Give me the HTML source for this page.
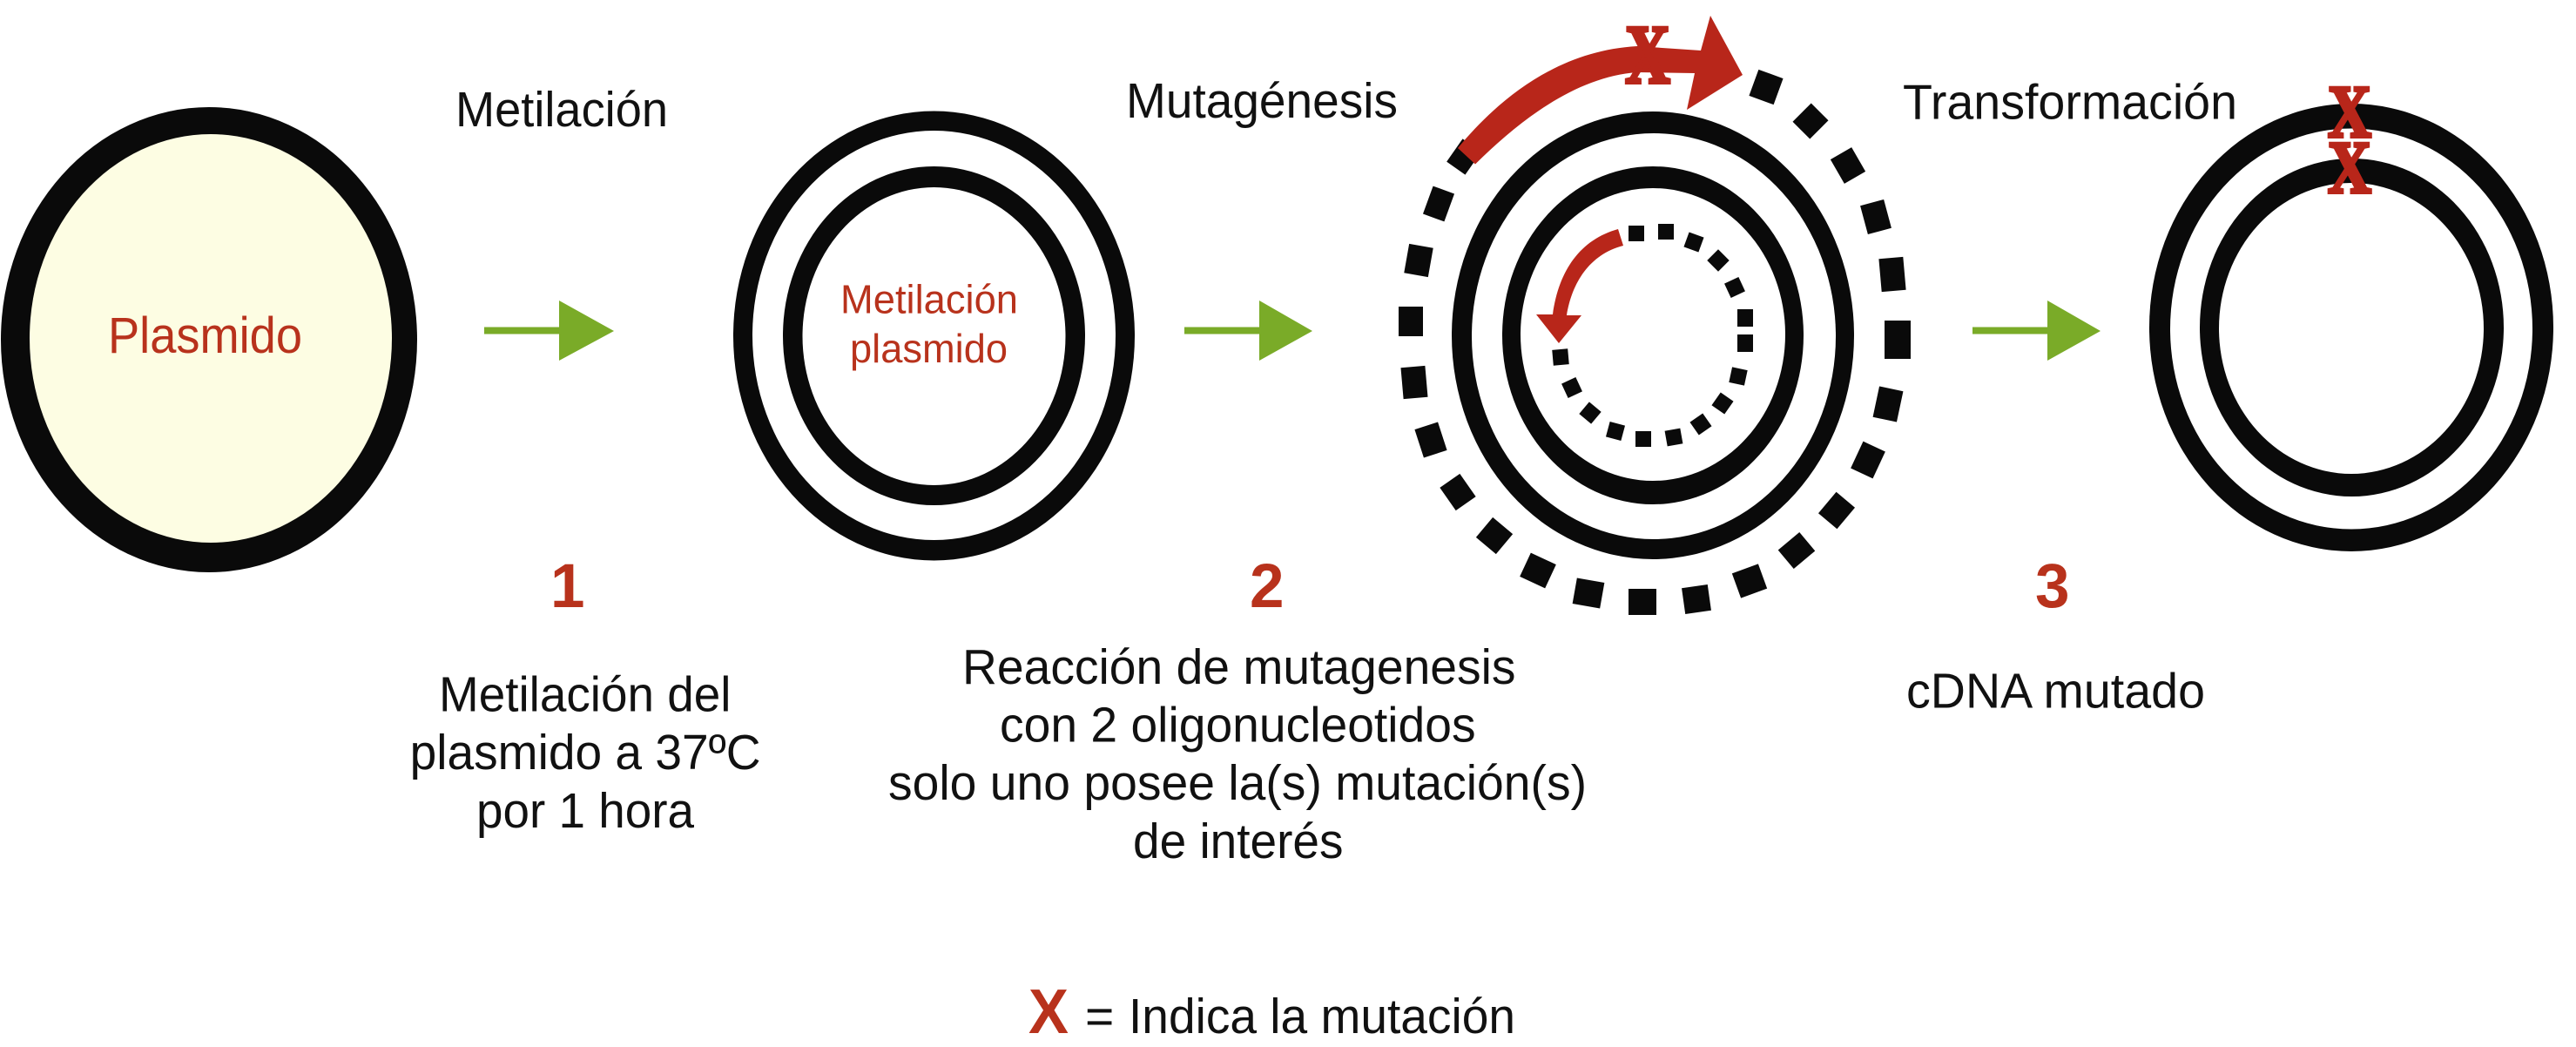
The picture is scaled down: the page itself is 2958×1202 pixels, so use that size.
<!DOCTYPE html>
<html lang="es">
<head>
<meta charset="utf-8">
<title>Metilación y mutagénesis</title>
<style>
html,body{margin:0;padding:0;background:#fff;width:2958px;height:1202px;overflow:hidden}
svg{display:block}
text{font-family:"Liberation Sans",Arial,sans-serif}
.t{font-size:57px;fill:#111}
.r{fill:#b8321c}
.n{font-size:71px;font-weight:bold;fill:#b8321c}
.k{fill:#0a0a0a}
.w{fill:#fff}
.g{fill:#7aab28}
.x{font-family:"Liberation Serif",serif;font-weight:bold;fill:#b8261a;stroke:#b8261a;stroke-width:4px}
</style>
</head>
<body>
<svg width="2958" height="1202" viewBox="0 0 2958 1202" xmlns="http://www.w3.org/2000/svg">
<rect width="2958" height="1202" fill="#fff"/>

<!-- Plasmid -->
<ellipse class="k" cx="240" cy="390" rx="239" ry="267"/>
<ellipse cx="242" cy="388.5" rx="208" ry="234.5" fill="#fdfde3"/>
<text x="124" y="405" font-size="58" class="r" textLength="223" lengthAdjust="spacingAndGlyphs">Plasmido</text>

<text class="t" x="523" y="145" textLength="244" lengthAdjust="spacingAndGlyphs">Metilación</text>

<!-- Arrow 1 -->
<polygon class="g" points="556,375.5 642,375.5 642,345 705,380 642,414 642,383.5 556,383.5"/>

<!-- Circle 2 -->
<ellipse class="k" cx="1072.5" cy="385.5" rx="230.5" ry="258"/>
<ellipse class="w" cx="1072.5" cy="385" rx="208.5" ry="235"/>
<ellipse class="k" cx="1072.5" cy="385.5" rx="173.5" ry="194.5"/>
<ellipse class="w" cx="1072.5" cy="386" rx="151" ry="171"/>
<text x="965" y="359.5" font-size="46" class="r" textLength="204" lengthAdjust="spacingAndGlyphs">Metilación</text>
<text x="976" y="416" font-size="46" class="r" textLength="181" lengthAdjust="spacingAndGlyphs">plasmido</text>

<!-- Arrow 2 -->
<polygon class="g" points="1360,375.5 1446,375.5 1446,345 1507,380 1446,414 1446,383.5 1360,383.5"/>

<text class="t" x="1293" y="135" textLength="312" lengthAdjust="spacingAndGlyphs">Mutagénesis</text>

<!-- Circle 3 -->
<ellipse class="k" cx="1898" cy="385" rx="231" ry="257"/>
<ellipse class="w" cx="1899" cy="386" rx="209" ry="233"/>
<ellipse class="k" cx="1898" cy="385" rx="173" ry="194"/>
<ellipse class="w" cx="1898" cy="384" rx="152" ry="168"/>

<!-- Outer dashes -->
<g class="k">
<rect x="-15" y="-16" width="30" height="32" transform="translate(2028 100) rotate(20)"/>
<rect x="-14" y="-15" width="28" height="30" transform="translate(2079 139) rotate(45)"/>
<rect x="-14" y="-16" width="28" height="32" transform="translate(2122 190) rotate(-30)"/>
<rect x="-14" y="-17" width="28" height="34" transform="translate(2154 249) rotate(-15)"/>
<rect x="-14" y="-19" width="28" height="38" transform="translate(2173 315) rotate(-5)"/>
<rect x="-15" y="-22" width="30" height="44" transform="translate(2179 390) rotate(0)"/>
<rect x="-14" y="-18" width="28" height="36" transform="translate(2168 464) rotate(12)"/>
<rect x="-14" y="-17" width="28" height="34" transform="translate(2145 528) rotate(25)"/>
<rect x="-14" y="-16" width="28" height="32" transform="translate(2109 586) rotate(40)"/>
<rect x="-14" y="-16" width="28" height="32" transform="translate(2063 632) rotate(50)"/>
<rect x="-16" y="-15" width="32" height="30" transform="translate(2009 667) rotate(-20)"/>
<rect x="-15" y="-15" width="30" height="30" transform="translate(1948 688) rotate(-8)"/>
<rect x="-16" y="-15" width="32" height="30" transform="translate(1886 691)"/>
<rect x="-16" y="-15" width="32" height="30" transform="translate(1824 681) rotate(10)"/>
<rect x="-16" y="-15" width="32" height="30" transform="translate(1766 655) rotate(25)"/>
<rect x="-15" y="-15" width="30" height="30" transform="translate(1716 615) rotate(40)"/>
<rect x="-14" y="-16" width="28" height="32" transform="translate(1674 565) rotate(-35)"/>
<rect x="-14" y="-17" width="28" height="34" transform="translate(1643 505) rotate(-18)"/>
<rect x="-14" y="-18" width="28" height="36" transform="translate(1624 439) rotate(-5)"/>
<rect x="-14" y="-17" width="28" height="34" transform="translate(1620 369)"/>
<rect x="-14" y="-17" width="28" height="34" transform="translate(1629 299) rotate(10)"/>
<rect x="-13" y="-17" width="26" height="34" transform="translate(1652 234) rotate(20)"/>
<rect x="-13" y="-16" width="26" height="32" transform="translate(1681 180) rotate(35)"/>
</g>

<!-- Inner dashes -->
<g class="k">
<rect x="1870" y="259" width="18" height="18"/>
<rect x="1904" y="257" width="18" height="18"/>
<rect x="-9" y="-9" width="18" height="18" transform="translate(1945 278) rotate(20)"/>
<rect x="-9" y="-9" width="18" height="18" transform="translate(1973 299) rotate(45)"/>
<rect x="-9" y="-9" width="18" height="18" transform="translate(1992 330) rotate(65)"/>
<rect x="1995" y="355" width="18" height="20"/>
<rect x="1995" y="384" width="18" height="20"/>
<rect x="-9" y="-9" width="18" height="18" transform="translate(1996 432) rotate(12)"/>
<rect x="-9" y="-9" width="18" height="18" transform="translate(1978 463) rotate(35)"/>
<rect x="-9" y="-9" width="18" height="18" transform="translate(1953 487) rotate(55)"/>
<rect x="-9" y="-9" width="18" height="18" transform="translate(1922 502) rotate(-10)"/>
<rect x="1878" y="495" width="18" height="18"/>
<rect x="-9" y="-9" width="18" height="18" transform="translate(1855 495) rotate(15)"/>
<rect x="-9" y="-9" width="18" height="18" transform="translate(1826 474) rotate(40)"/>
<rect x="-9" y="-9" width="18" height="18" transform="translate(1805 445) rotate(-25)"/>
<rect x="-9" y="-9" width="18" height="18" transform="translate(1792 410) rotate(-5)"/>
</g>

<!-- Big red arrow -->
<path fill="#b8261a" d="M1674,170 C1722,112 1790,58 1880,53 L1953,58 L1964,18 L2001,86 L1937,126 L1946,84 L1880,83 C1810,88 1745,138 1694,188.5 Z"/>
<text class="x" x="1866" y="95" font-size="96" textLength="52" lengthAdjust="spacingAndGlyphs">X</text>

<!-- Small red arrow -->
<path fill="#b8261a" d="M1858,263 C1815,275 1790,310 1783,361 L1764,361 L1790,394 L1816,362 L1799,362 C1805,325 1825,292 1864,282 Z"/>

<!-- Arrow 3 -->
<polygon class="g" points="2265,375.5 2351,375.5 2351,345 2412,380 2351,414 2351,383.5 2265,383.5"/>

<text class="t" x="2185" y="136.5" textLength="384" lengthAdjust="spacingAndGlyphs">Transformación</text>

<!-- Circle 4 -->
<ellipse class="k" cx="2700" cy="376" rx="232" ry="257"/>
<ellipse class="w" cx="2700" cy="377.5" rx="208" ry="230"/>
<ellipse class="k" cx="2700.5" cy="376" rx="174.5" ry="194"/>
<ellipse class="w" cx="2700" cy="377" rx="152" ry="167"/>
<text class="x" x="2673" y="157" font-size="86" textLength="50" lengthAdjust="spacingAndGlyphs">X</text>
<text class="x" x="2673" y="221" font-size="86" textLength="50" lengthAdjust="spacingAndGlyphs">X</text>

<!-- Numbers -->
<text class="n" x="632" y="697">1</text>
<text class="n" x="1435" y="697">2</text>
<text class="n" x="2337" y="697">3</text>

<!-- Captions -->
<text class="t" x="504" y="816.7" textLength="335.5" lengthAdjust="spacingAndGlyphs">Metilación del</text>
<text class="t" x="470.6" y="883" textLength="403" lengthAdjust="spacingAndGlyphs">plasmido a 37ºC</text>
<text class="t" x="547" y="950" textLength="250" lengthAdjust="spacingAndGlyphs">por 1 hora</text>

<text class="t" x="1105" y="785" textLength="635.5" lengthAdjust="spacingAndGlyphs">Reacción de mutagenesis</text>
<text class="t" x="1148" y="851.7" textLength="546.6" lengthAdjust="spacingAndGlyphs">con 2 oligonucleotidos</text>
<text class="t" x="1020" y="918" textLength="802" lengthAdjust="spacingAndGlyphs">solo uno posee la(s) mutación(s)</text>
<text class="t" x="1301" y="985" textLength="241.5" lengthAdjust="spacingAndGlyphs">de interés</text>

<text class="t" x="2189" y="812.5" textLength="343" lengthAdjust="spacingAndGlyphs">cDNA mutado</text>

<!-- Legend -->
<text x="1181" y="1186" font-size="72" font-weight="bold" class="r" textLength="46" lengthAdjust="spacingAndGlyphs">X</text>
<text class="t" x="1246" y="1186">=</text>
<text class="t" x="1296" y="1186" textLength="444" lengthAdjust="spacingAndGlyphs">Indica la mutación</text>
</svg>
</body>
</html>
